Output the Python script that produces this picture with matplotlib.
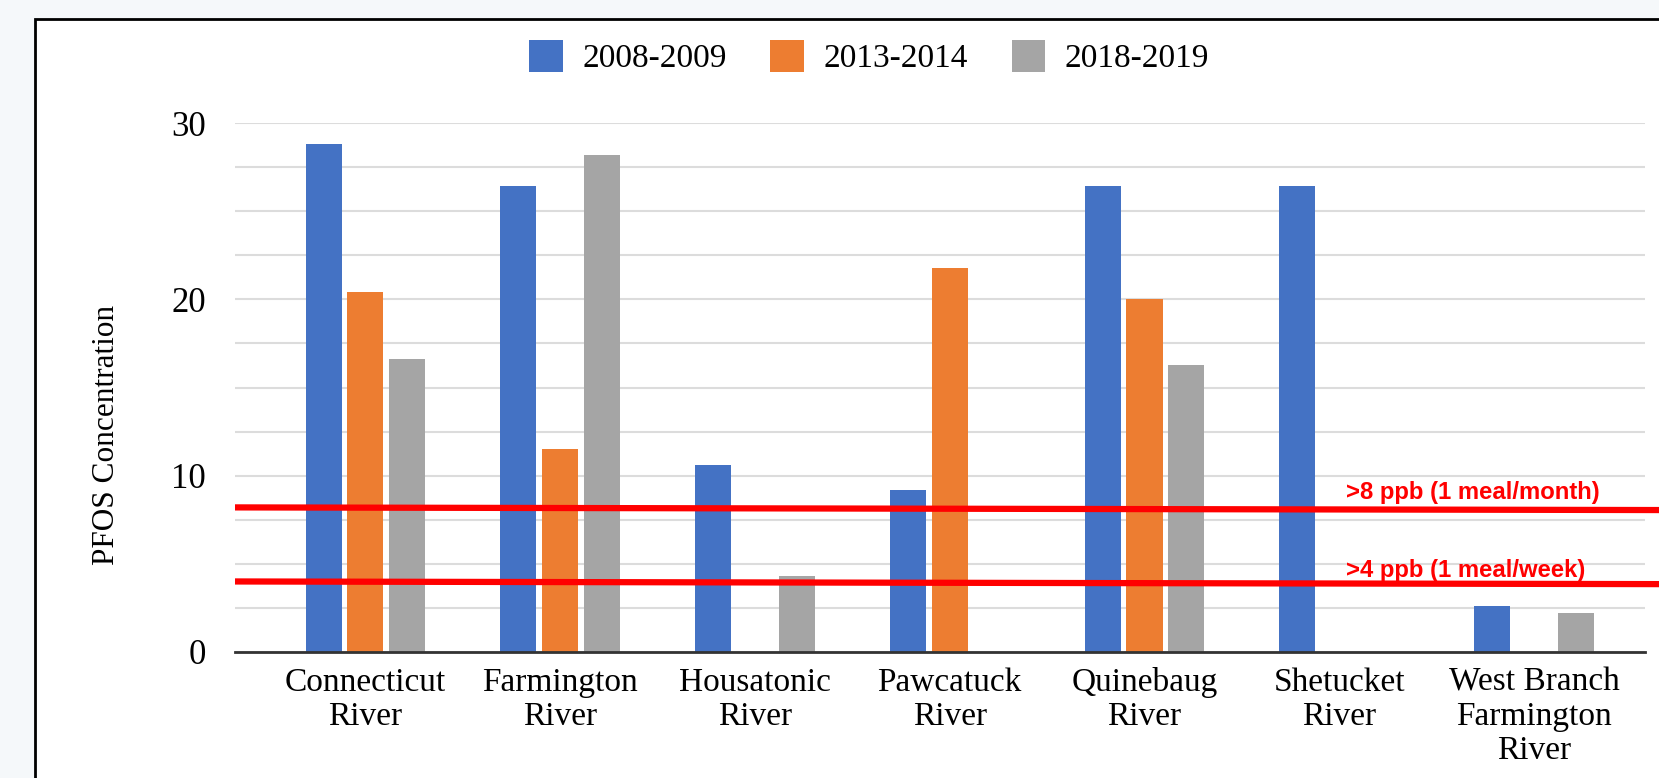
import numpy as np
import matplotlib.pyplot as plt
from matplotlib.patches import Rectangle
import matplotlib.transforms as mtransforms

rivers = ["Connecticut\nRiver", "Farmington\nRiver", "Housatonic\nRiver",
          "Pawcatuck\nRiver", "Quinebaug\nRiver", "Shetucket\nRiver",
          "West Branch\nFarmington\nRiver"]
periods = ["2008-2009", "2013-2014", "2018-2019"]
v_2008 = [28.8, 26.4, 10.6, 9.2, 26.4, 26.4, 2.6]
v_2013 = [20.4, 11.5, 0, 21.8, 20.0, 0, 0]
v_2018 = [16.6, 28.2, 4.3, 0, 16.3, 0, 2.2]
colors = ["#4472c4", "#ed7d31", "#a5a5a5"]

# advisory lines (value at left end, value at right end)
adv_8 = [8.2, 8.05]
adv_4 = [4.0, 3.85]
adv_labels = [">8 ppb (1 meal/month)", ">4 ppb (1 meal/week)"]

serif = "Liberation Serif"

fig = plt.figure(figsize=(16.59, 7.78), dpi=100)
fig.patch.set_facecolor("#f5f8fa")
panel = Rectangle((35 / 1659, -0.1), 1.2, 1 - 19 / 778 + 0.1,
                  transform=fig.transFigure, facecolor="white",
                  edgecolor="black", linewidth=2, zorder=-5)
fig.patches.append(panel)

ax = fig.add_axes([235 / 1659, 1 - 652 / 778, (1645 - 235) / 1659, (652 - 123) / 778])
ax.set_facecolor("none")
ax.set_zorder(1)

x = np.arange(len(rivers))
w = 0.185
step = 0.215
for i, (vals, c, lab) in enumerate(zip([v_2008, v_2013, v_2018], colors, periods)):
    ax.bar(x + (i - 1) * step, vals, width=w, color=c, label=lab, zorder=3)

ax.set_xlim(-0.67, 6.57)
ax.set_ylim(0, 30)
ax.set_yticks([0, 10, 20, 30])
ax.set_yticks(np.arange(0, 30.1, 2.5), minor=True)
ax.grid(axis="y", which="both", color="#dcdcdc", linewidth=1.5, zorder=0)
ax.tick_params(axis="y", which="both", length=0, pad=21, labelsize=25)
ax.tick_params(axis="x", length=0, pad=11, labelsize=24)
ax.set_xticks(x)
ax.set_xticklabels(rivers, fontfamily=serif, linespacing=1.15)
for t in ax.get_yticklabels():
    t.set_fontfamily(serif)
for s in ["top", "right", "left"]:
    ax.spines[s].set_visible(False)
ax.spines["bottom"].set_color("#333333")
ax.spines["bottom"].set_linewidth(2)
ax.spines["bottom"].set_zorder(4)

ax.set_ylabel("PFOS Concentration", fontfamily=serif, fontsize=22.5)
ax.yaxis.set_label_coords(-(235 - 121) / 1410, 0.41)

trans = mtransforms.blended_transform_factory(ax.transAxes, ax.transData)
for vals, lab, off in zip([adv_8, adv_4], adv_labels, [1.0, 0.8]):
    ax.plot([0, 1.01], vals, color="#ff0000", linewidth=4.5, transform=trans,
            clip_on=False, zorder=5, solid_capstyle="butt")
    ax.text((1346 - 235) / 1410, vals[1] + off, lab, transform=trans,
            color="#ff0000", fontsize=17.2, fontweight="bold",
            fontfamily="Liberation Sans", va="center", ha="left", zorder=6)

leg = fig.legend(loc="center", bbox_to_anchor=(0.524, 1 - 57 / 778), ncol=3,
                 frameon=False, prop={"family": serif, "size": 24},
                 handlelength=1.0, handleheight=1.1, handletextpad=0.6,
                 columnspacing=1.3)

fig.savefig("out.png", dpi=100, facecolor=fig.get_facecolor())
